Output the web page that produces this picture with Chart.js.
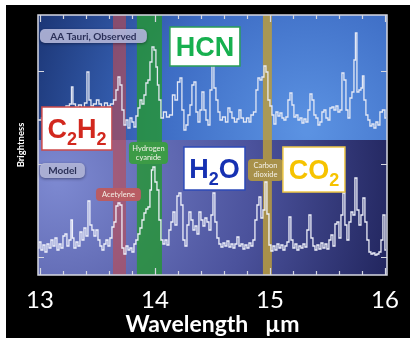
<!DOCTYPE html>
<html>
<head>
<meta charset="utf-8">
<title>AA Tauri spectrum</title>
<script src="https://cdn.jsdelivr.net/npm/chart.js@4.4.1/dist/chart.umd.min.js"></script>
<style>
html,body{margin:0;padding:0;background:#ffffff;overflow:hidden;}
canvas{display:block;}
</style>
</head>
<body>
<canvas id="chart" width="410" height="338"></canvas>
<script>
// ---- data (wavelength in µm, brightness in arbitrary units) ----
const wavelengthObserved = [12.983,13.043,13.087,13.130,13.174,13.209,13.243,13.270,13.278,13.296,13.322,13.348,13.374,13.400,13.417,13.435,13.452,13.478,13.504,13.522,13.548,13.574,13.600,13.626,13.652,13.670,13.687,13.704,13.722,13.739,13.757,13.774,13.791,13.809,13.826,13.843,13.861,13.878,13.896,13.913,13.930,13.948,13.965,13.983,14.000,14.017,14.026,14.043,14.061,14.087,14.113,14.139,14.165,14.183,14.209,14.226,14.243,14.261,14.278,14.296,14.313,14.330,14.348,14.365,14.383,14.400,14.417,14.435,14.452,14.470,14.487,14.504,14.522,14.539,14.557,14.574,14.600,14.626,14.643,14.661,14.678,14.704,14.722,14.739,14.757,14.783,14.809,14.826,14.843,14.870,14.887,14.904,14.922,14.939,14.957,14.974,14.991,15.009,15.026,15.043,15.061,15.078,15.096,15.113,15.130,15.148,15.165,15.183,15.200,15.217,15.235,15.252,15.270,15.287,15.304,15.322,15.339,15.357,15.374,15.391,15.409,15.426,15.443,15.461,15.478,15.496,15.513,15.530,15.548,15.565,15.583,15.600,15.617,15.635,15.652,15.670,15.687,15.704,15.722,15.739,15.748,15.765,15.783,15.800,15.809,15.826,15.843,15.861,15.878,15.896,15.913,15.930,15.948,15.965,15.991,16.009];
const brightnessObserved = [155,157,153,159,163,167,169,171,188,171,168,170,167,172,203,175,169,171,175,171,168,172,169,171,175,185,198,190,165,150,155,147,157,153,148,159,167,175,171,180,192,195,213,228,225,208,190,175,157,163,158,160,180,175,193,197,165,145,150,160,170,190,193,163,153,165,183,165,155,150,185,210,187,175,163,155,158,153,167,163,157,153,156,165,157,153,157,153,160,163,185,197,195,198,209,203,175,169,160,151,163,159,162,157,155,158,175,182,170,158,160,155,157,152,156,153,165,181,175,160,157,150,153,163,165,157,155,167,168,165,169,163,165,202,195,165,157,177,183,215,242,183,185,187,199,175,160,155,149,151,147,153,150,163,165,157];

const wavelengthModel = [12.983,13.000,13.017,13.035,13.052,13.070,13.087,13.104,13.122,13.139,13.157,13.174,13.191,13.209,13.226,13.243,13.261,13.278,13.287,13.304,13.322,13.339,13.357,13.374,13.391,13.409,13.426,13.443,13.461,13.478,13.496,13.513,13.530,13.548,13.565,13.583,13.600,13.617,13.635,13.652,13.670,13.687,13.704,13.722,13.739,13.757,13.774,13.791,13.809,13.826,13.843,13.861,13.878,13.896,13.913,13.930,13.948,13.965,13.974,13.991,14.009,14.026,14.043,14.061,14.078,14.096,14.113,14.130,14.148,14.165,14.183,14.200,14.217,14.235,14.252,14.270,14.287,14.304,14.322,14.339,14.357,14.374,14.391,14.409,14.426,14.443,14.461,14.478,14.496,14.513,14.530,14.548,14.565,14.583,14.600,14.617,14.635,14.652,14.670,14.687,14.704,14.722,14.739,14.757,14.774,14.791,14.809,14.826,14.843,14.861,14.878,14.896,14.913,14.930,14.948,14.965,14.983,15.000,15.017,15.035,15.052,15.070,15.087,15.104,15.122,15.139,15.157,15.174,15.191,15.209,15.226,15.243,15.261,15.278,15.296,15.313,15.330,15.348,15.365,15.383,15.400,15.417,15.435,15.452,15.470,15.487,15.504,15.522,15.539,15.557,15.574,15.591,15.609,15.626,15.643,15.661,15.678,15.696,15.713,15.730,15.748,15.765,15.783,15.800,15.817,15.835,15.852,15.870,15.887,15.904,15.922,15.939,15.957,15.974,15.991,16.009];
const brightnessModel = [27,33,25,30,23,31,27,35,29,37,25,31,27,39,41,29,35,55,37,27,33,29,43,35,47,39,74,50,45,39,45,35,29,25,31,35,29,37,48,53,69,72,70,27,21,29,25,27,23,31,35,41,47,55,62,66,68,85,105,108,93,85,55,35,31,35,30,45,53,63,50,79,82,70,35,29,50,63,55,45,49,41,63,55,49,57,53,45,60,82,53,37,31,28,32,29,34,28,31,27,31,38,29,31,26,30,27,32,29,35,55,70,78,57,65,93,61,30,24,29,25,31,27,30,25,29,33,58,35,27,31,25,29,27,31,28,45,60,37,29,25,30,26,32,27,31,26,35,40,29,51,53,37,60,82,50,35,53,63,60,97,65,50,60,77,53,35,23,21,22,20,21,23,35,60,25];

const seriesNames = ['AA Tauri, Observed', 'Model'];
const xTickLabels = ['13', '14', '15', '16'];
const yTickValues = [18, 111, 204];
const axisTitleX = 'Wavelength   \u00b5m';
const axisTitleY = 'Brightness';

// absorption/emission bands (µm)
const bandNames = ['Acetylene', 'Hydrogen cyanide', 'Carbon dioxide'];
const bandStart = [13.635, 13.843, 14.939];
const bandEnd   = [13.748, 14.061, 15.017];

// ---- presentation (positions given in data units, styles) ----
const xMin = 12.983, xMax = 16.018, yMin = 0, yMax = 260;
const panelSplit = 135;
const bandColors = ['rgba(190,74,80,0.62)', 'rgba(38,150,52,0.82)', 'rgba(186,156,62,0.85)'];

const formulaBoxes = [
  {text: 'C_2H_2', x0: 13.017, x1: 13.626, y0: 168, y1: 125, color: '#d2281e', border: '#cc4a4a'},
  {text: 'HCN',    x0: 14.130, x1: 14.739, y0: 248, y1: 209, color: '#17b04f', border: '#2a9e55'},
  {text: 'H_2O',   x0: 14.252, x1: 14.783, y0: 128, y1: 85,  color: '#1631b2', border: '#2c4ab8'},
  {text: 'CO_2',   x0: 15.113, x1: 15.652, y0: 128, y1: 83,  color: '#f6c300', border: '#efc94a'}
];
const seriesTags = [
  {text: seriesNames[0], x0: 13.000, x1: 13.930, y0: 246, y1: 232},
  {text: seriesNames[1], x0: 13.000, x1: 13.391, y0: 112, y1: 97}
];
const bandTags = [
  {lines: ['Acetylene'],           x0: 13.487, x1: 13.878, y0: 87,  y1: 74,  fill: '#b95c63'},
  {lines: ['Hydrogen', 'cyanide'], x0: 13.774, x1: 14.113, y0: 133, y1: 111, fill: '#3c9b46'},
  {lines: ['Carbon', 'dioxide'],   x0: 14.809, x1: 15.113, y0: 116, y1: 94,  fill: '#a8914a'}
];

function isWhole(v) { return Math.abs(v - Math.round(v)) < 1e-6; }

function roundBox(ctx, x, y, w, h, r) {
  ctx.beginPath();
  if (ctx.roundRect) ctx.roundRect(x, y, w, h, r); else ctx.rect(x, y, w, h);
}

function drawFormula(ctx, text, cx, cy, color, size) {
  const parts = [];
  for (let i = 0; i < text.length; i++) {
    if (text[i] === '_') { parts.push({t: text[i + 1], sub: true}); i++; }
    else parts.push({t: text[i], sub: false});
  }
  const big = 'bold ' + size + 'px "Liberation Sans", Arial, sans-serif';
  const small = 'bold ' + Math.round(size * 0.68) + 'px "Liberation Sans", Arial, sans-serif';
  let w = 0;
  parts.forEach(p => { ctx.font = p.sub ? small : big; p.w = ctx.measureText(p.t).width; w += p.w; });
  let x = cx - w / 2;
  const base = cy + size * 0.36;
  ctx.fillStyle = color;
  ctx.textAlign = 'left';
  ctx.textBaseline = 'alphabetic';
  parts.forEach(p => {
    ctx.font = p.sub ? small : big;
    ctx.fillText(p.t, x, base + (p.sub ? size * 0.24 : 0));
    x += p.w;
  });
}

const decorPlugin = {
  id: 'decor',
  beforeDraw(chart) {
    const ctx = chart.ctx;
    ctx.save();
    ctx.fillStyle = '#ffffff';
    ctx.fillRect(0, 0, chart.width, chart.height);
    ctx.fillStyle = '#000000';
    ctx.fillRect(6, 5, chart.width - 6, chart.height - 5);
    ctx.restore();
  },
  beforeDatasetsDraw(chart) {
    const {ctx, chartArea: a, scales: {x, y}} = chart;
    const split = y.getPixelForValue(panelSplit);
    ctx.save();
    let g = ctx.createRadialGradient(a.right - 80, split - 10, 5, a.right - 80, split - 10, 330);
    g.addColorStop(0, '#5b92e2');
    g.addColorStop(0.45, '#3d6cc4');
    g.addColorStop(1, '#132760');
    ctx.fillStyle = g;
    ctx.fillRect(a.left, a.top, a.right - a.left, split - a.top);
    g = ctx.createRadialGradient(a.left + 20, split + 40, 5, a.left + 20, split + 40, 390);
    g.addColorStop(0, '#7c88d0');
    g.addColorStop(0.5, '#4b529c');
    g.addColorStop(1, '#14174a');
    ctx.fillStyle = g;
    ctx.fillRect(a.left, split, a.right - a.left, a.bottom - split);
    for (let i = 0; i < bandStart.length; i++) {
      const p0 = x.getPixelForValue(bandStart[i]);
      const p1 = x.getPixelForValue(bandEnd[i]);
      ctx.fillStyle = bandColors[i];
      ctx.fillRect(p0, a.top, p1 - p0, a.bottom - a.top);
    }
    ctx.restore();
  },
  afterDatasetsDraw(chart) {
    const {ctx, chartArea: a, scales: {x, y}} = chart;
    ctx.save();
    // frame
    ctx.strokeStyle = '#d6d8e2';
    ctx.lineWidth = 1.5;
    ctx.strokeRect(a.left, a.top, a.right - a.left, a.bottom - a.top);
    // inward ticks on x (top and bottom)
    ctx.lineWidth = 1.2;
    x.ticks.forEach(t => {
      const px = Math.round(x.getPixelForValue(t.value)) + 0.5;
      const len = isWhole(t.value) ? 7 : 4;
      ctx.beginPath();
      ctx.moveTo(px, a.bottom); ctx.lineTo(px, a.bottom - len);
      ctx.moveTo(px, a.top); ctx.lineTo(px, a.top + len);
      ctx.stroke();
    });
    // inward ticks on y (left and right)
    yTickValues.forEach(v => {
      const py = Math.round(y.getPixelForValue(v)) + 0.5;
      ctx.beginPath();
      ctx.moveTo(a.left, py); ctx.lineTo(a.left + 6, py);
      ctx.moveTo(a.right, py); ctx.lineTo(a.right - 6, py);
      ctx.stroke();
    });
    // series tags
    seriesTags.forEach(t => {
      const x0 = x.getPixelForValue(t.x0), x1 = x.getPixelForValue(t.x1);
      const y0 = y.getPixelForValue(t.y0), y1 = y.getPixelForValue(t.y1);
      ctx.shadowColor = 'rgba(0,0,20,0.45)';
      ctx.shadowBlur = 3; ctx.shadowOffsetY = 1;
      roundBox(ctx, x0, y0, x1 - x0, y1 - y0, 5);
      ctx.fillStyle = 'rgba(178,182,218,0.92)';
      ctx.fill();
      ctx.shadowColor = 'transparent';
      ctx.fillStyle = '#2b3058';
      ctx.font = 'bold 10px Lato, "Open Sans", sans-serif';
      ctx.textAlign = 'center'; ctx.textBaseline = 'middle';
      ctx.fillText(t.text, (x0 + x1) / 2, (y0 + y1) / 2 + 0.5);
    });
    // band tags
    bandTags.forEach(t => {
      const x0 = x.getPixelForValue(t.x0), x1 = x.getPixelForValue(t.x1);
      const y0 = y.getPixelForValue(t.y0), y1 = y.getPixelForValue(t.y1);
      roundBox(ctx, x0, y0, x1 - x0, y1 - y0, 4);
      ctx.fillStyle = t.fill;
      ctx.fill();
      ctx.fillStyle = '#f4f1e8';
      ctx.font = '7.5px Lato, "Open Sans", sans-serif';
      ctx.textAlign = 'center'; ctx.textBaseline = 'middle';
      const cy = (y0 + y1) / 2, n = t.lines.length;
      t.lines.forEach((l, i) => ctx.fillText(l, (x0 + x1) / 2, cy + (i - (n - 1) / 2) * 8.5));
    });
    // molecule formula boxes
    formulaBoxes.forEach(b => {
      const x0 = x.getPixelForValue(b.x0), x1 = x.getPixelForValue(b.x1);
      const y0 = y.getPixelForValue(b.y0), y1 = y.getPixelForValue(b.y1);
      ctx.fillStyle = '#ffffff';
      ctx.fillRect(x0, y0, x1 - x0, y1 - y0);
      ctx.strokeStyle = b.border;
      ctx.lineWidth = 1.5;
      ctx.strokeRect(x0, y0, x1 - x0, y1 - y0);
      drawFormula(ctx, b.text, (x0 + x1) / 2, (y0 + y1) / 2, b.color, 27);
    });
    ctx.restore();
  }
};

const toPoints = (xs, ys) => xs.map((v, i) => ({x: v, y: ys[i]}));

new Chart(document.getElementById('chart'), {
  type: 'line',
  data: {
    datasets: [
      {label: seriesNames[0], data: toPoints(wavelengthObserved, brightnessObserved),
       stepped: 'middle', borderColor: 'rgba(232,235,246,0.97)', borderWidth: 1.3, pointRadius: 0, fill: false},
      {label: seriesNames[1], data: toPoints(wavelengthModel, brightnessModel),
       stepped: 'middle', borderColor: 'rgba(242,244,252,0.97)', borderWidth: 1.3, pointRadius: 0, fill: false}
    ]
  },
  options: {
    responsive: false,
    animation: false,
    layout: {padding: {top: 15, right: 23, left: 0, bottom: 0}},
    plugins: {legend: {display: false}, tooltip: {enabled: false}},
    scales: {
      x: {
        type: 'linear', min: xMin, max: xMax,
        grid: {display: false},
        border: {display: false},
        ticks: {
          stepSize: 0.2, includeBounds: false, autoSkip: false, maxRotation: 0, maxTicksLimit: 100,
          padding: 3, color: '#ffffff',
          font: {family: 'Lato', size: 24},
          callback: v => isWhole(v) ? xTickLabels[Math.round(v) - 13] : ''
        },
        title: {display: true, text: axisTitleX, color: '#ffffff',
                font: {family: 'Lato', size: 23, weight: 'bold'}, padding: {top: 0, bottom: 0}},
        afterFit: s => { s.height = 63; s.paddingLeft = 0; s.paddingRight = 0; }
      },
      y: {
        type: 'linear', min: yMin, max: yMax,
        grid: {display: false},
        border: {display: false},
        ticks: {display: false},
        title: {display: true, text: axisTitleY, color: '#ffffff',
                font: {family: 'Lato', size: 9.5, weight: 'bold'}, padding: {top: 15, bottom: 0}},
        afterFit: s => { s.width = 38; s.paddingTop = 0; s.paddingBottom = 0; }
      }
    }
  },
  plugins: [decorPlugin]
});
</script>
</body>
</html>
